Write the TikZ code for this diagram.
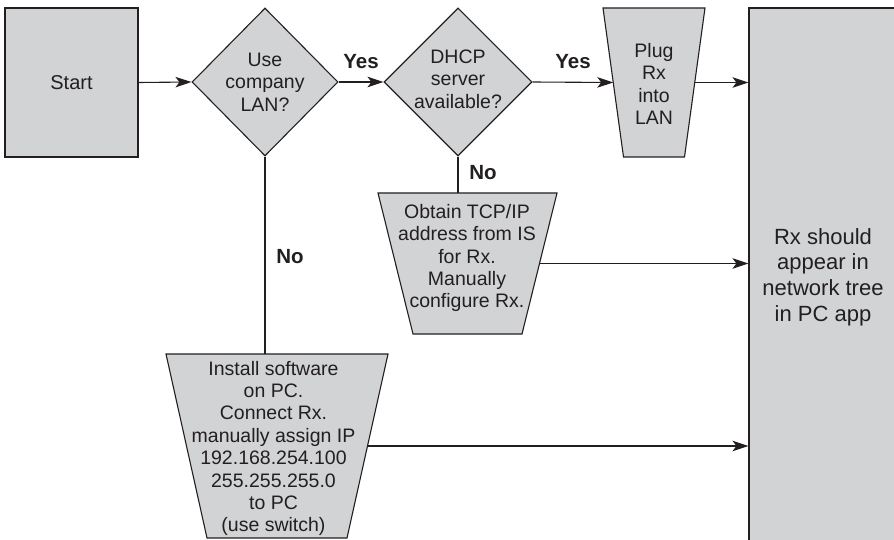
\documentclass[tikz,border=0pt]{standalone}
\usepackage{fontspec}
\setmainfont{Liberation Sans}
\usetikzlibrary{shapes.geometric,arrows.meta,backgrounds}
\definecolor{boxfill}{RGB}{209,211,212}
\definecolor{ink}{RGB}{35,31,32}
\begin{document}
\begin{tikzpicture}[x=1pt,y=-1pt,
  shapebox/.style={draw=ink, fill=boxfill, line width=1.1pt, inner sep=0pt},
  decision/.style={shapebox, diamond, aspect=1},
  frame/.style={inner sep=0pt, outer sep=0pt},
  trapfill/.style={draw=ink, fill=boxfill, line width=1.1pt, line join=miter},
  txt/.style={inner sep=0pt, align=center, text=ink, font=\fontsize{19.5}{22.4}\selectfont},
  bigtxt/.style={inner sep=0pt, align=center, text=ink, font=\fontsize{22}{25.6}\selectfont},
  lbl/.style={inner sep=0pt, text=ink, font=\bfseries\fontsize{20.5}{24}\selectfont},
  arr/.style={draw=ink, line width=1.1pt, -{Stealth[length=16pt,width=10.5pt,inset=4pt]}},
  ln/.style={draw=ink, line width=1.1pt}]
\useasboundingbox (0,0) rectangle (894,540);
\clip (0,0) rectangle (894,540);

% start and decisions
\node[shapebox, minimum width=133, minimum height=149, font=\fontsize{20}{24}\selectfont, text=ink] (start) at (71.5,82.5) {Start};
\node[decision, minimum width=146, minimum height=148] (d1) at (265,82) {};
\node[txt] (d1t) at (265,82) {Use\\company\\LAN?};
\node[decision, minimum width=148, minimum height=148] (d2) at (458,82) {};
\node[txt] (d2t) at (458,79) {DHCP\\server\\available?};

% trapezoid frames (invisible rectangles giving the outer extent)
\node[frame, minimum width=102, minimum height=149] (plug) at (654,82.5) {};
\node[frame, minimum width=179, minimum height=141] (t2) at (467.5,263.5) {};
\node[frame, minimum width=222, minimum height=184] (t3) at (277,446) {};
\begin{scope}[on background layer]
  \draw[trapfill] (plug.north west) -- (plug.north east) -- ([xshift=-20.5pt]plug.south east) -- ([xshift=20.5pt]plug.south west) -- cycle;
  \draw[trapfill] (t2.north west) -- (t2.north east) -- ([xshift=-35pt]t2.south east) -- ([xshift=35pt]t2.south west) -- cycle;
  \draw[trapfill] (t3.north west) -- (t3.north east) -- ([xshift=-41pt]t3.south east) -- ([xshift=41pt]t3.south west) -- cycle;
\end{scope}
\coordinate (plugL) at ([xshift=10.25pt]plug.west);
\coordinate (plugR) at ([xshift=-10.25pt]plug.east);
\coordinate (t2R) at ([xshift=-17.5pt]t2.east);
\coordinate (t3R) at ([xshift=-20.5pt]t3.east);
\node[txt] (plugt) at (654,84) {Plug\\Rx\\into\\LAN};
\node[txt] (t2t) at (467,258) {Obtain TCP/IP\\address from IS\\for Rx.\\Manually\\configure Rx.};
\node[txt] (t3t) at (273.5,448.5) {Install software\\on PC.\\Connect Rx.\\manually assign IP\\192.168.254.100\\255.255.255.0\\to PC\\(use switch)};

% end box
\node[shapebox, minimum width=148, minimum height=538] (big) at (823,277) {};
\node[bigtxt] (bigt) at (823,277) {Rx should\\appear in\\network tree\\in PC app};

% labels
\node[lbl] (yes1) at (361,62) {Yes};
\node[lbl] (yes2) at (573,62) {Yes};
\node[lbl] (no1) at (483,173) {No};
\node[lbl] (no2) at (290,257) {No};

% connectors
\draw[arr] (start.east) -- (d1.west);
\draw[arr] (d1.east) -- (d2.west);
\draw[arr] (d2.east) -- (plugL);
\draw[arr] (plugR) -- (plugR -| big.west);
\draw[arr] (t2R) -- (t2R -| big.west);
\draw[arr] (t3R) -- (t3R -| big.west);
\draw[ln] (d2.south) -- (d2.south |- t2.north);
\draw[ln] (d1.south) -- (d1.south |- t3.north);
\end{tikzpicture}
\end{document}
